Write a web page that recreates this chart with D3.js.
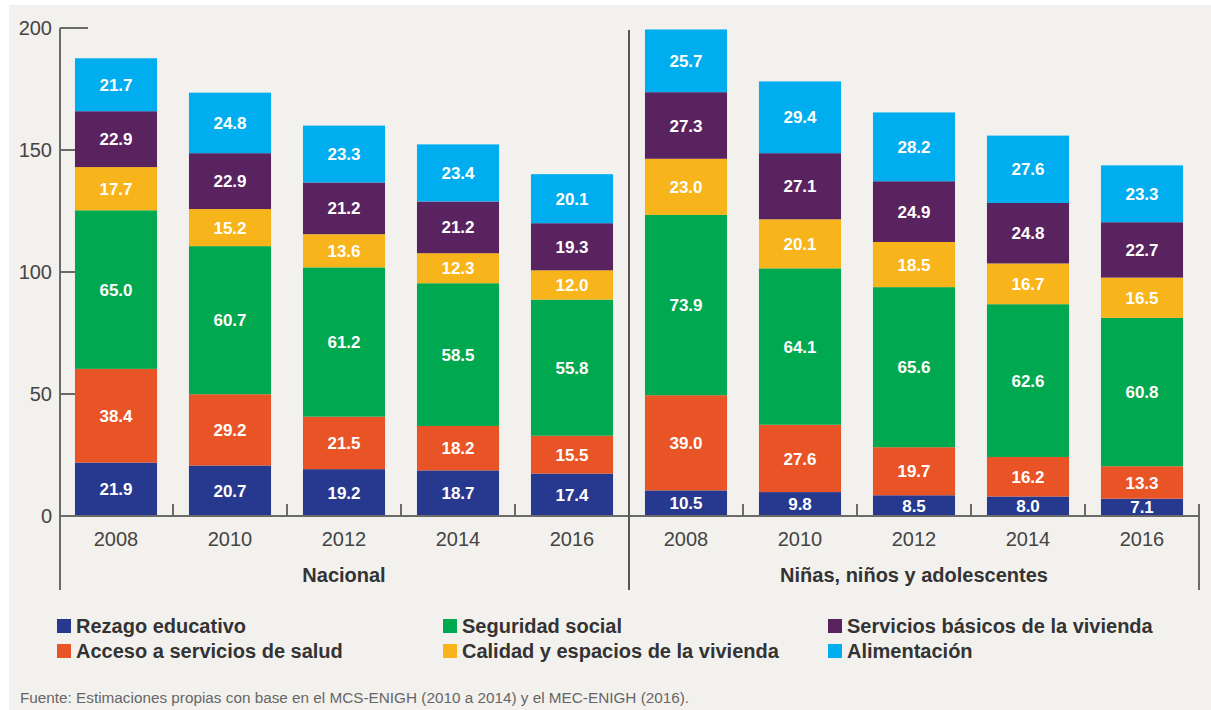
<!DOCTYPE html>
<html>
<head>
<meta charset="utf-8">
<script src="https://cdn.jsdelivr.net/npm/d3@7"></script>
<style>
  html, body { margin: 0; padding: 0; background: #ffffff; }
  svg { display: block; }
  text { font-family: "Liberation Sans", Arial, sans-serif; }
</style>
</head>
<body>
<svg id="chart" width="1211" height="710"></svg>
<script>
// ---- Data ----
const years = ["2008", "2010", "2012", "2014", "2016"];
const groups = ["Nacional", "Niñas, niños y adolescentes"];
const seriesNames = [
  "Rezago educativo",
  "Acceso a servicios de salud",
  "Seguridad social",
  "Calidad y espacios de la vivienda",
  "Servicios básicos de la vivienda",
  "Alimentación"
];
const seriesColors = ["#27398f", "#e95426", "#00a84f", "#f8b41b", "#59235f", "#00aeef"];
// values: first 5 = Nacional 2008..2016, last 5 = Niñas, niños y adolescentes 2008..2016
const rezago       = [21.9, 20.7, 19.2, 18.7, 17.4, 10.5, 9.8, 8.5, 8.0, 7.1];
const salud        = [38.4, 29.2, 21.5, 18.2, 15.5, 39.0, 27.6, 19.7, 16.2, 13.3];
const seguridad    = [65.0, 60.7, 61.2, 58.5, 55.8, 73.9, 64.1, 65.6, 62.6, 60.8];
const calidad      = [17.7, 15.2, 13.6, 12.3, 12.0, 23.0, 20.1, 18.5, 16.7, 16.5];
const servicios    = [22.9, 22.9, 21.2, 21.2, 19.3, 27.3, 27.1, 24.9, 24.8, 22.7];
const alimentacion = [21.7, 24.8, 23.3, 23.4, 20.1, 25.7, 29.4, 28.2, 27.6, 23.3];
const yTicks = [0, 50, 100, 150, 200];
const sourceNote = "Fuente: Estimaciones propias con base en el MCS-ENIGH (2010 a 2014) y el MEC-ENIGH (2016).";

// ---- Build table ----
const seriesValues = [rezago, salud, seguridad, calidad, servicios, alimentacion];
const keys = [];
groups.forEach(g => years.forEach(y => keys.push(g + "|" + y)));
const table = keys.map((k, i) => {
  const row = { key: k, group: k.split("|")[0], year: k.split("|")[1] };
  seriesNames.forEach((s, j) => row[s] = seriesValues[j][i]);
  return row;
});

const svg = d3.select("#chart");
const axisColor = "#6a6a6a";

// background panel
svg.append("rect").attr("x", 9).attr("y", 5).attr("width", 1202).attr("height", 705).attr("fill", "#f3f1ee");

const x = d3.scaleBand().domain(keys).range([59, 1199]).paddingInner(0.28).paddingOuter(0.14);
const y = d3.scaleLinear().domain([0, 200]).range([516, 28]);
const bw = x.bandwidth();
const step = x.step();
const axisX = 60;

// y ticks (behind bars)
const yt = svg.append("g");
yt.selectAll("line").data(yTicks).join("line")
  .attr("x1", axisX).attr("x2", axisX + 28)
  .attr("y1", d => y(d)).attr("y2", d => y(d))
  .attr("stroke", axisColor).attr("stroke-width", 2);
yt.selectAll("text").data(yTicks).join("text")
  .attr("x", 52).attr("y", d => y(d)).attr("dy", "0.36em")
  .attr("text-anchor", "end").attr("font-size", 20).attr("fill", "#444")
  .text(d => d);

// y axis line
svg.append("line").attr("x1", axisX).attr("x2", axisX).attr("y1", y(200)).attr("y2", 590)
  .attr("stroke", axisColor).attr("stroke-width", 2);

// stacked bars
const stack = d3.stack().keys(seriesNames);
const stacked = stack(table);
const layers = svg.append("g").selectAll("g").data(stacked).join("g")
  .attr("fill", (d, i) => seriesColors[i]);
layers.selectAll("rect").data(d => d).join("rect")
  .attr("x", d => x(d.data.key))
  .attr("width", bw)
  .attr("y", d => y(d[1]))
  .attr("height", d => y(d[0]) - y(d[1]));

// value labels
const lbl = svg.append("g");
stacked.forEach(layer => {
  lbl.selectAll(null).data(layer).join("text")
    .attr("x", d => x(d.data.key) + bw / 2)
    .attr("y", d => (y(d[0]) + y(d[1])) / 2)
    .attr("dy", "0.36em")
    .attr("text-anchor", "middle")
    .attr("font-size", 17).attr("font-weight", "bold").attr("fill", "#ffffff")
    .text(d => d3.format(".1f")(d[1] - d[0]));
});

// x baseline
svg.append("line").attr("x1", axisX).attr("x2", 1199).attr("y1", y(0)).attr("y2", y(0))
  .attr("stroke", axisColor).attr("stroke-width", 2);

// small boundary ticks
const boundaries = [];
for (let i = 1; i < keys.length; i++) {
  if (i === years.length) continue;
  boundaries.push((x(keys[i - 1]) + bw + x(keys[i])) / 2);
}
svg.append("g").selectAll("line").data(boundaries).join("line")
  .attr("x1", d => d).attr("x2", d => d).attr("y1", y(0)).attr("y2", y(0) - 12)
  .attr("stroke", axisColor).attr("stroke-width", 2);

// divider between groups
const divX = (x(keys[years.length - 1]) + bw + x(keys[years.length])) / 2;
svg.append("line").attr("x1", divX).attr("x2", divX).attr("y1", 30).attr("y2", 590)
  .attr("stroke", "#555").attr("stroke-width", 2);

// right end
const endX = x(keys[keys.length - 1]) + bw + (step - bw) / 2;
svg.append("line").attr("x1", endX).attr("x2", endX).attr("y1", y(0) - 12).attr("y2", 590)
  .attr("stroke", axisColor).attr("stroke-width", 2);

// year labels
svg.append("g").selectAll("text").data(table).join("text")
  .attr("x", d => x(d.key) + bw / 2).attr("y", 546)
  .attr("text-anchor", "middle").attr("font-size", 20).attr("fill", "#444")
  .text(d => d.year);

// group labels
svg.append("g").selectAll("text").data(groups).join("text")
  .attr("x", g => x(g + "|" + years[2]) + bw / 2).attr("y", 582)
  .attr("text-anchor", "middle").attr("font-size", 20).attr("font-weight", "bold").attr("fill", "#333")
  .text(g => g);

// legend
const legCols = [57, 443, 828];
const legRows = [619, 644];
const leg = svg.append("g").selectAll("g").data(seriesNames).join("g")
  .attr("transform", (d, i) => `translate(${legCols[Math.floor(i / 2)]},${legRows[i % 2]})`);
leg.append("rect").attr("width", 14).attr("height", 14).attr("fill", (d, i) => seriesColors[i]);
leg.append("text").attr("x", 19).attr("y", 14)
  .attr("font-size", 20).attr("font-weight", "bold").attr("fill", "#333")
  .text(d => d);

// source note
svg.append("text").attr("x", 20).attr("y", 703)
  .attr("font-size", 15.3).attr("fill", "#666")
  .text(sourceNote);
</script>
</body>
</html>
